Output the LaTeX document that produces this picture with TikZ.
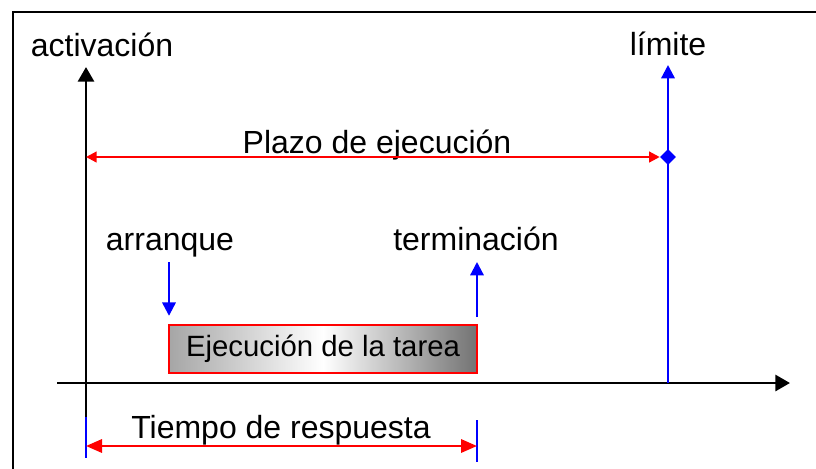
\documentclass[tikz,border=0pt]{standalone}
\usepackage{fontspec}
\setmainfont{Liberation Sans}
\usetikzlibrary{arrows.meta,positioning,shapes.geometric}

\begin{document}
\begin{tikzpicture}[x=0.75pt,y=-0.75pt,font=\fontsize{24}{28}\selectfont,
    texto/.style={anchor=base},
    axis/.style={line width=2.2pt,>={Triangle[length=11pt,width=12pt]}},
    marca/.style={blue,line width=1.7pt,>={Triangle[length=10pt,width=10pt]}},
    plazo/.style={red,line width=1.7pt,>={Triangle[length=8pt,width=8pt]}},
    respuesta/.style={red,line width=1.7pt,>={Triangle[length=12pt,width=10pt]}},
    tarea/.style={draw=red,line width=1.8pt,minimum width=231pt,minimum height=36pt,
      left color=black!35,right color=black!55,middle color=white,
      font=\fontsize{22}{26}\selectfont}]
      \useasboundingbox (0,0) rectangle (816,468);
      \clip (0,0) rectangle (816,468);
      \draw[axis] (13,12) rectangle (840,490);
      \node[texto] (A) at (102,56) {activación};
      \node[texto] (L) at (668,55) {límite};
      \node[texto] (P) at (377,153) {Plazo de ejecución};
      \node[texto] (B) at (170,250) {arranque};
      \node[texto] (C) at (476,250) {terminación};
      \node[tarea] (T) at (323,349) {Ejecución de la tarea};
      \node[texto] (R) at (281,438) {Tiempo de respuesta};
      \node[diamond,fill=blue,inner sep=0pt,minimum size=12pt] (D) at (668,157) {};
      \coordinate (O) at (86,383);
      \coordinate (X0) at (57,383);
      \coordinate (X1) at (790,383);
      \coordinate (Y0) at (86,417);
      \coordinate (Y1) at (86,67);
      \coordinate (Y2) at (86,458);
      \coordinate (L0) at (668,383);
      \coordinate (L1) at (668,65);
      \coordinate (B0) at (169,262);
      \coordinate (C0) at (477,262);
      \coordinate (E0) at (477,420);
      \coordinate (E1) at (477,462);
      \path[axis,->] (X0) edge (X1)
      (Y0) edge (Y1);
      \path[marca,->] (L0) edge (L1)
      (B0) edge ([yshift=6pt]B0 |- T.north)
      ([yshift=5pt]C0 |- T.north) edge (C0);
      \path[marca] (Y0) edge (Y2)
      (E0) edge (E1);
      \path[plazo,<->] (D.west) edge (D -| O);
      \path[respuesta,<->] (Y0 |- 0,446) edge (E0 |- 0,446);
    \end{tikzpicture}
\end{document}
